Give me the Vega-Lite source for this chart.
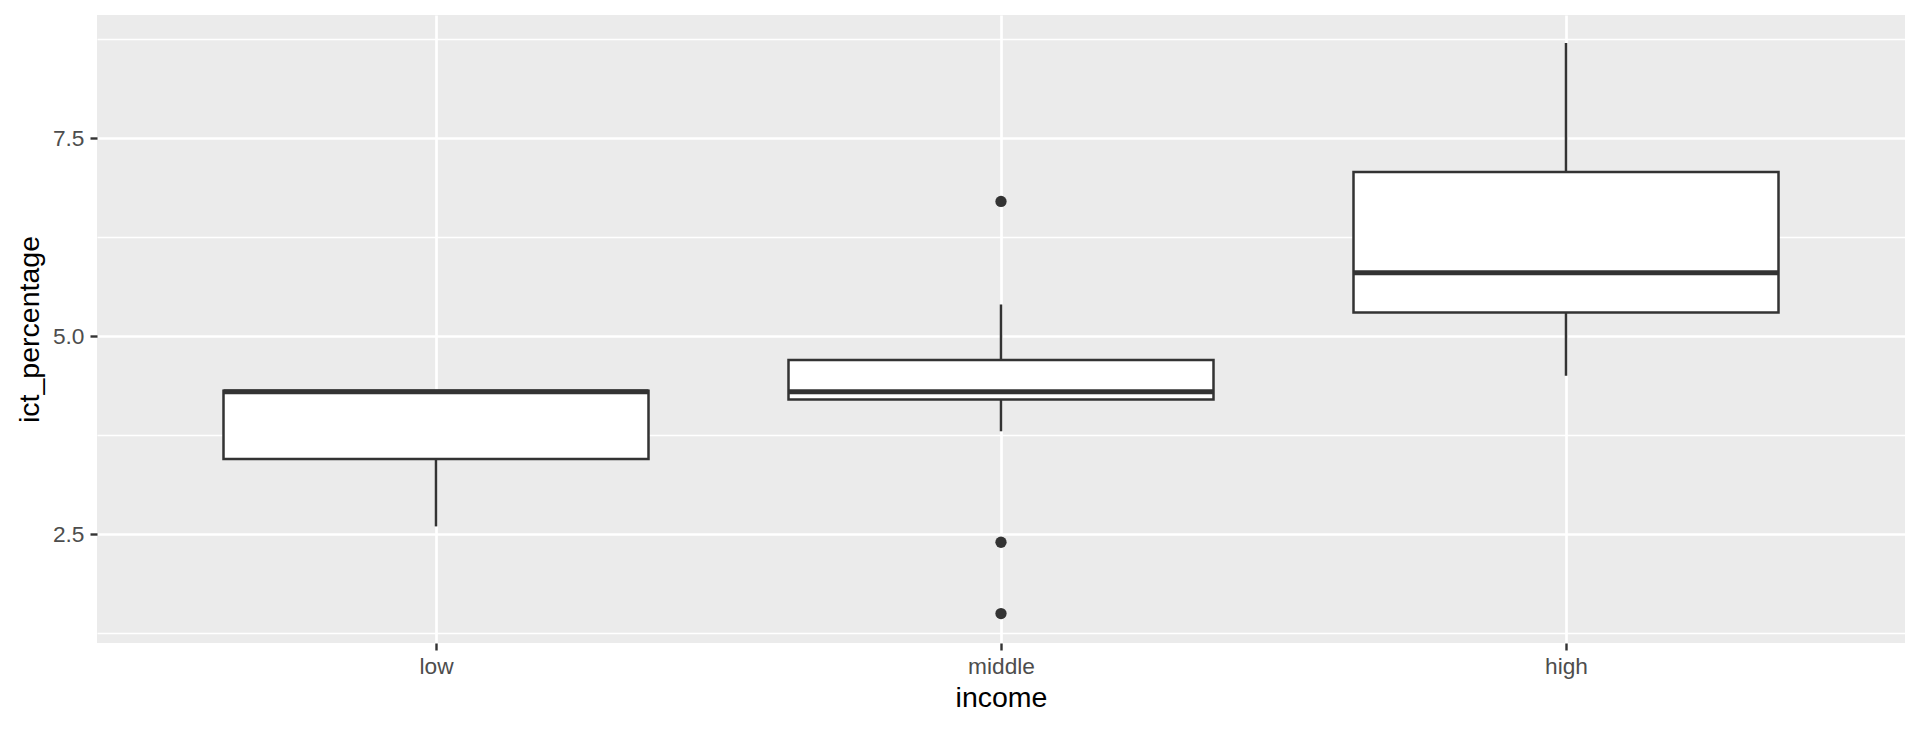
{
  "$schema": "https://vega.github.io/schema/vega-lite/v6.json",
  "autosize": {"type": "none"},
  "padding": {"left": 97, "top": 15, "right": 15, "bottom": 86},
  "width": 1808,
  "height": 628,
  "background": "white",
  "config": {
    "view": {"fill": "#EBEBEB", "stroke": null},
    "font": "Liberation Sans"
  },
  "datasets": {
    "boxes": [
      {"income": "low", "lower": 2.6, "q1": 3.45, "median": 4.3, "q3": 4.31, "upper": 4.31},
      {"income": "middle", "lower": 3.8, "q1": 4.2, "median": 4.3, "q3": 4.7, "upper": 5.4},
      {"income": "high", "lower": 4.5, "q1": 5.3, "median": 5.8, "q3": 7.07, "upper": 8.7}
    ],
    "outliers": [
      {"income": "middle", "value": 6.7},
      {"income": "middle", "value": 2.4},
      {"income": "middle", "value": 1.5}
    ]
  },
  "layer": [
    {
      "data": {"name": "boxes"},
      "mark": {"type": "rule", "color": "#333333", "strokeWidth": 2.5},
      "encoding": {
        "x": {
          "field": "income", "type": "nominal",
          "sort": ["low", "middle", "high"],
          "scale": {"type": "point", "padding": 0.6},
          "axis": {
            "title": "income",
            "titleFontSize": 28.5, "titleFontWeight": "normal", "titleColor": "black",
            "titlePadding": 6,
            "labelFontSize": 22.7, "labelColor": "#4D4D4D", "labelPadding": 5,
            "labelAngle": 0,
            "tickSize": 7, "tickWidth": 2.4, "tickColor": "#333333",
            "domain": false,
            "grid": true, "gridColor": "white", "gridWidth": 2.7
          }
        },
        "y": {
          "field": "lower", "type": "quantitative",
          "scale": {"domain": [1.129, 9.052], "nice": false, "zero": false},
          "axis": {
            "title": "ict_percentage",
            "titleFontSize": 28.5, "titleFontWeight": "normal", "titleColor": "black",
            "titlePadding": 8,
            "values": [1.25, 2.5, 3.75, 5, 6.25, 7.5, 8.75],
            "labelExpr": "datum.value % 2.5 === 0 ? format(datum.value, '.1f') : ''",
            "labelFontSize": 22.7, "labelColor": "#4D4D4D", "labelPadding": 6,
            "tickSize": 7, "tickWidth": 2.4, "tickColor": "#333333",
            "tickOpacity": {"condition": {"test": "datum.value % 2.5 === 0", "value": 1}, "value": 0},
            "domain": false,
            "grid": true, "gridColor": "white",
            "gridWidth": {"condition": {"test": "datum.value % 2.5 === 0", "value": 2.7}, "value": 1.4}
          }
        },
        "y2": {"field": "upper"}
      }
    },
    {
      "data": {"name": "boxes"},
      "mark": {"type": "bar", "fill": "white", "stroke": "#333333", "strokeWidth": 2.5, "width": 425},
      "encoding": {
        "x": {"field": "income", "type": "nominal", "sort": ["low", "middle", "high"]},
        "y": {"field": "q1", "type": "quantitative"},
        "y2": {"field": "q3"}
      }
    },
    {
      "data": {"name": "boxes"},
      "mark": {"type": "tick", "color": "#333333", "size": 425, "thickness": 5, "opacity": 1},
      "encoding": {
        "x": {"field": "income", "type": "nominal", "sort": ["low", "middle", "high"]},
        "y": {"field": "median", "type": "quantitative"}
      }
    },
    {
      "data": {"name": "outliers"},
      "mark": {"type": "point", "filled": true, "color": "#333333", "size": 127, "opacity": 1},
      "encoding": {
        "x": {"field": "income", "type": "nominal", "sort": ["low", "middle", "high"]},
        "y": {"field": "value", "type": "quantitative"}
      }
    }
  ]
}
